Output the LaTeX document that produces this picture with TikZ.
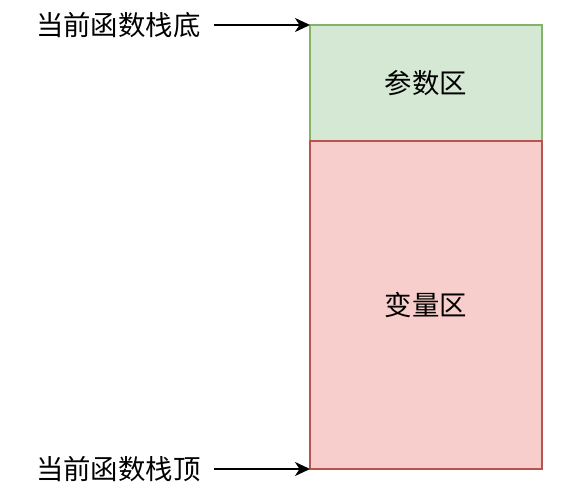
\documentclass[tikz,border=0pt]{standalone}
\usepackage{fontspec}
\newfontfamily\cjk{Noto Sans CJK SC}
\usetikzlibrary{arrows.meta}
\definecolor{gfill}{HTML}{D5E8D4}
\definecolor{gdraw}{HTML}{82B366}
\definecolor{rfill}{HTML}{F8CECC}
\definecolor{rdraw}{HTML}{B85450}
\tikzset{
  txt/.style={font=\cjk\fontsize{27.5}{32}\selectfont},
  box/.style={txt, draw, line width=1.5bp, minimum width=232bp, anchor=north west, inner sep=0pt, outer sep=0pt},
  lbl/.style={txt, anchor=west, inner sep=0pt},
  arr/.style={-{Stealth[length=15bp,width=14bp,inset=4.5bp]}, line width=2bp}
}
\begin{document}
\begin{tikzpicture}[x=1bp,y=-1bp]
\useasboundingbox (0,0) rectangle (569,491);
\node[box, fill=gfill, draw=gdraw, minimum height=116bp] (param) at (310,25) {参数区};
\node[box, fill=rfill, draw=rdraw, minimum height=328bp] (var) at (310,141) {变量区};
\node[lbl] (bottom) at (36,25) {当前函数栈底};
\node[lbl] (top) at (36,469) {当前函数栈顶};
\coordinate (b0) at (214,25);
\coordinate (t0) at (214,469);
\draw[arr] (b0) -- (b0 -| param.west);
\draw[arr] (t0) -- (t0 -| var.west);
\end{tikzpicture}
\end{document}
